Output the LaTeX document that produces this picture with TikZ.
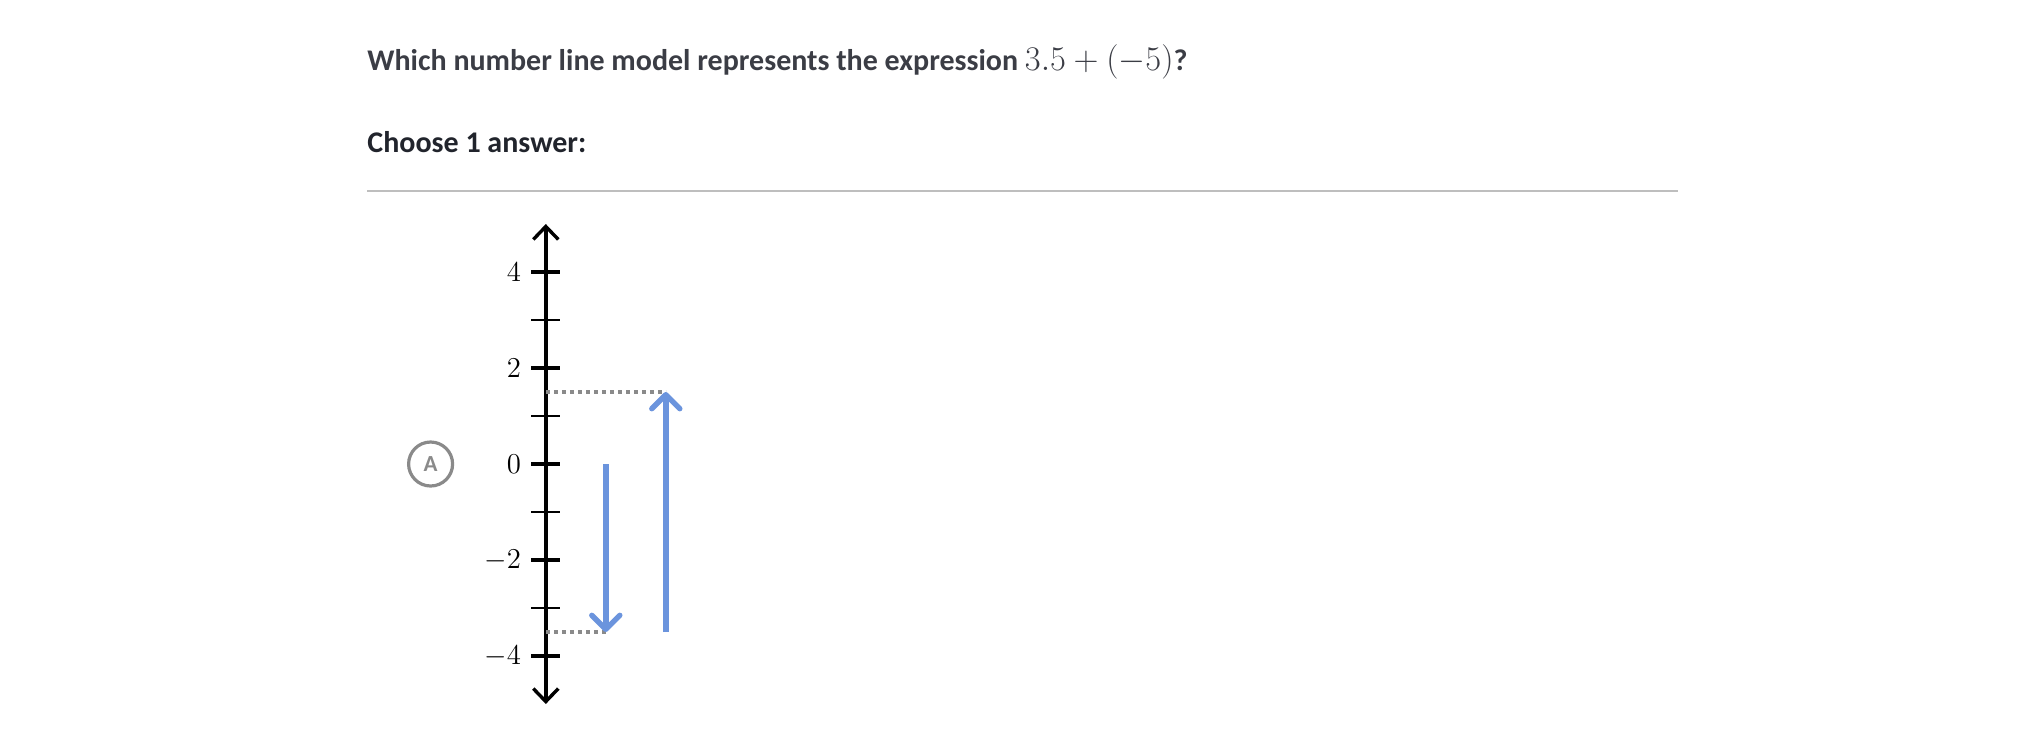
\documentclass[tikz,border=0pt]{standalone}
\usepackage{fontspec}
\newfontfamily\uifont{Carlito}
\usetikzlibrary{arrows.meta,positioning}
\definecolor{inkgray}{HTML}{3B3D45}
\definecolor{inkdark}{HTML}{21242C}
\definecolor{rulegray}{HTML}{BEBEBE}
\definecolor{dotgray}{HTML}{8A8A8A}
\definecolor{jumpblue}{RGB}{107,148,221}
\tikzset{axis/.style={line width=1.7pt,
    {Straight Barb[length=6.5pt,width=12.5pt]}-{Straight Barb[length=6.5pt,width=12.5pt]}}}
\tikzset{major/.style={line width=1.9pt}, minor/.style={line width=1.1pt}}
\tikzset{jump/.style={jumpblue, line width=2.7pt,
    -{Straight Barb[length=7pt,width=14pt,round]}}}
\tikzset{guide/.style={dotgray, line width=1.6pt, dash pattern=on 2pt off 2pt}}
\tikzset{ticklabel/.style={left=5pt, inner sep=0pt, font=\fontsize{14.5}{16}\selectfont}}
\tikzset{choice/.style={circle, draw=dotgray, line width=1.6pt, minimum size=22pt,
    inner sep=0pt, text=dotgray, font=\uifont\bfseries\fontsize{11.5}{12}\selectfont}}
\tikzset{prompt/.style={anchor=base west, inner sep=0pt,
    font=\uifont\bfseries\fontsize{15}{18}\selectfont}}

\begin{document}
\begin{tikzpicture}
  \useasboundingbox (0,0) rectangle (1011pt,-368pt);
  \node[prompt, text=inkgray] (question) at (183.5pt,-35pt)
    {Which number line model represents the expression {\fontsize{16}{18}\selectfont$3.5+(-5)$}?};
  \node[prompt, text=inkdark] (choose) at (183.5pt,-76.2pt) {Choose 1 answer:};
  \coordinate (rulel) at (183.5pt,-95.5pt);
  \coordinate (ruler) at (839pt,-95.5pt);
  \draw[rulegray, line width=1pt] (rulel) -- (ruler);
  \begin{scope}[shift={(272.9pt,-232pt)}, x=24pt, y=24pt]
    \coordinate (top) at (0,5);
    \coordinate (bot) at (0,-5);
    \draw[axis] (bot) -- (top);
    \foreach \v in {-3,-1,1,3}
      \draw[minor] (-0.3,\v) -- (0.3,\v);
    \foreach \v in {-4,-2,0,2,4}
    {
      \draw[major] (-0.3,\v) -- (0.3,\v);
      \node[ticklabel] (l\v) at (-0.3,\v) {$\v$};
    }
    \node[choice] (optA) at (-2.4,0) {A};
    % jumps
    \coordinate (d0) at (1.25,0);
    \coordinate (d1) at (1.25,-3.5);
    \coordinate (u0) at (2.5,-3.5);
    \coordinate (u1) at (2.5,1.5);
    \coordinate (g1) at (0,1.5);
    \coordinate (g2) at (0,-3.5);
    \draw[guide] (g1) -- (u1);
    \draw[guide] (g2) -- (d1);
    \draw[jump] (d0) -- (d1);
    \draw[jump] (u0) -- (u1);
  \end{scope}
\end{tikzpicture}
\end{document}
